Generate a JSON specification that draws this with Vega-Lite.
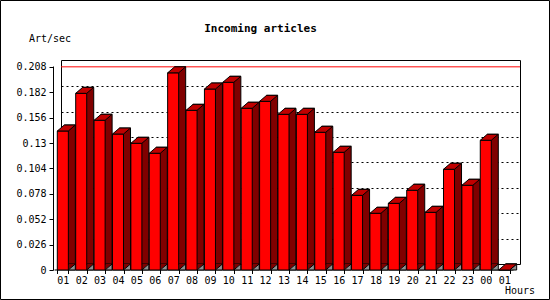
{
  "$schema": "https://vega.github.io/schema/vega-lite/v6.json",
  "width": 459,
  "height": 204,
  "autosize": "none",
  "padding": {"left": 61, "top": 60, "right": 30, "bottom": 36},
  "background": "white",
  "config": {
    "font": "DejaVu Sans Mono",
    "view": {"stroke": "black", "strokeWidth": 1},
    "axis": {"labelFont": "DejaVu Sans Mono", "titleFont": "DejaVu Sans Mono", "labelColor": "black", "titleColor": "black", "domainColor": "black", "tickColor": "black", "labelFontSize": 10, "titleFontSize": 10, "titleFontWeight": "normal"}
  },
  "data": {
    "values": [
      {"hour": "01", "rate": 0.1424},
      {"hour": "02", "rate": 0.181},
      {"hour": "03", "rate": 0.1534},
      {"hour": "04", "rate": 0.1393},
      {"hour": "05", "rate": 0.1298},
      {"hour": "06", "rate": 0.1196},
      {"hour": "07", "rate": 0.202},
      {"hour": "08", "rate": 0.1636},
      {"hour": "09", "rate": 0.1854},
      {"hour": "10", "rate": 0.1923},
      {"hour": "11", "rate": 0.1657},
      {"hour": "12", "rate": 0.1728},
      {"hour": "13", "rate": 0.1595},
      {"hour": "14", "rate": 0.1595},
      {"hour": "15", "rate": 0.1411},
      {"hour": "16", "rate": 0.1206},
      {"hour": "17", "rate": 0.0765},
      {"hour": "18", "rate": 0.0581},
      {"hour": "19", "rate": 0.0683},
      {"hour": "20", "rate": 0.0817},
      {"hour": "21", "rate": 0.0591},
      {"hour": "22", "rate": 0.1032},
      {"hour": "23", "rate": 0.0868},
      {"hour": "00", "rate": 0.1329},
      {"hour": "01 ", "rate": 0.0}
    ]
  },
  "resolve": {"axis": {"y": "independent"}},
  "layer": [
    {
      "mark": {"type": "rule", "stroke": "#ff0000", "strokeWidth": 1},
      "encoding": {
        "y": {"aggregate": "max", "field": "rate", "type": "quantitative", "scale": {"domain": [0, 0.209], "nice": false}, "axis": null}
      }
    },
    {
      "mark": {"type": "bar", "fill": "#800000", "stroke": "black", "strokeWidth": 1},
      "encoding": {
        "x": {
          "field": "hour", "type": "ordinal", "sort": null,
          "scale": {"paddingInner": 0.4, "paddingOuter": 0.18},
          "axis": {
            "orient": "bottom", "offset": 12.5, "translate": -6.5,
            "labelAngle": 0, "tickBand": "extent", "tickSize": 4, "labelPadding": 2,
            "labelExpr": "trim(datum.label)",
            "title": "Hours", "titleX": 450.5, "titleY": 24, "titleAlign": "left", "titleBaseline": "alphabetic", "titleAnchor": null
          }
        },
        "y": {
          "field": "rate", "type": "quantitative",
          "scale": {"domain": [0, 0.209], "nice": false},
          "axis": {
            "orient": "left", "grid": true, "gridDash": [2, 3], "gridColor": "black", "gridOpacity": 1,
            "values": [0.026, 0.052, 0.078, 0.104, 0.13, 0.156, 0.182],
            "labels": false, "ticks": false, "domain": false,
            "title": "Incoming articles", "titleFontSize": 11, "titleFontWeight": "bold",
            "titleAngle": 0, "titleAlign": "center", "titleBaseline": "alphabetic",
            "titleX": 199, "titleY": -29, "titleAnchor": null
          }
        }
      }
    },
    {
      "mark": {"type": "point", "shape": "M -0.15 0.6 L 0.55 0 L -0.15 0 Z", "size": 400, "filled": true, "fill": "#800000", "strokeWidth": 0, "opacity": 1},
      "encoding": {
        "x": {"field": "hour", "type": "ordinal", "sort": null},
        "y": {"datum": 0, "type": "quantitative", "scale": {"domain": [0, 0.209], "nice": false}, "axis": null}
      }
    },
    {
      "mark": {"type": "point", "shape": "M -0.15 0.6 L 0.55 0 L 0.55 0.6 Z", "size": 400, "filled": true, "fill": "#909090", "stroke": "black", "strokeWidth": 1, "opacity": 1},
      "encoding": {
        "x": {"field": "hour", "type": "ordinal", "sort": null},
        "y": {"datum": 0, "type": "quantitative", "scale": {"domain": [0, 0.209], "nice": false}, "axis": null}
      }
    },
    {
      "mark": {"type": "bar", "fill": "#ff0000", "stroke": "black", "strokeWidth": 1, "xOffset": -7, "yOffset": 6, "y2Offset": 6},
      "encoding": {
        "x": {"field": "hour", "type": "ordinal", "sort": null},
        "y": {
          "field": "rate", "type": "quantitative",
          "scale": {"domain": [0, 0.209], "nice": false},
          "axis": {
            "orient": "left", "offset": 14, "translate": 6.5, "grid": false,
            "values": [0, 0.026, 0.052, 0.078, 0.104, 0.13, 0.156, 0.182, 0.208],
            "format": ".3~f", "tickSize": 4, "labelPadding": 3,
            "title": "Art/sec", "titleAngle": 0, "titleAlign": "left", "titleBaseline": "alphabetic",
            "titleX": -24.5, "titleY": -24.5, "titleAnchor": null
          }
        }
      }
    },
    {
      "mark": {"type": "point", "shape": "M -1.25 0.6 L -0.15 0.6 L 0.55 0 L -0.55 0 Z", "size": 400, "filled": true, "fill": "#c00000", "stroke": "black", "strokeWidth": 1, "opacity": 1},
      "encoding": {
        "x": {"field": "hour", "type": "ordinal", "sort": null},
        "y": {"field": "rate", "type": "quantitative", "scale": {"domain": [0, 0.209], "nice": false}, "axis": null}
      }
    },
    {
      "mark": {"type": "point", "opacity": 0, "filled": true},
      "encoding": {
        "x": {"field": "hour", "type": "ordinal", "sort": null},
        "y": {"field": "rate", "type": "quantitative", "scale": {"domain": [0, 0.209], "nice": false}, "axis": null},
        "fill": {
          "field": "rate", "type": "quantitative",
          "scale": {"range": ["rgba(0,0,0,0)", "rgba(0,0,0,0)"]},
          "legend": {
            "type": "gradient", "orient": "none", "legendX": -60.5, "legendY": -59.5,
            "direction": "horizontal", "gradientLength": 549, "gradientThickness": 299,
            "gradientStrokeColor": "black", "gradientStrokeWidth": 1,
            "values": [], "title": null, "padding": 0, "offset": 0
          }
        }
      }
    }
  ]
}
